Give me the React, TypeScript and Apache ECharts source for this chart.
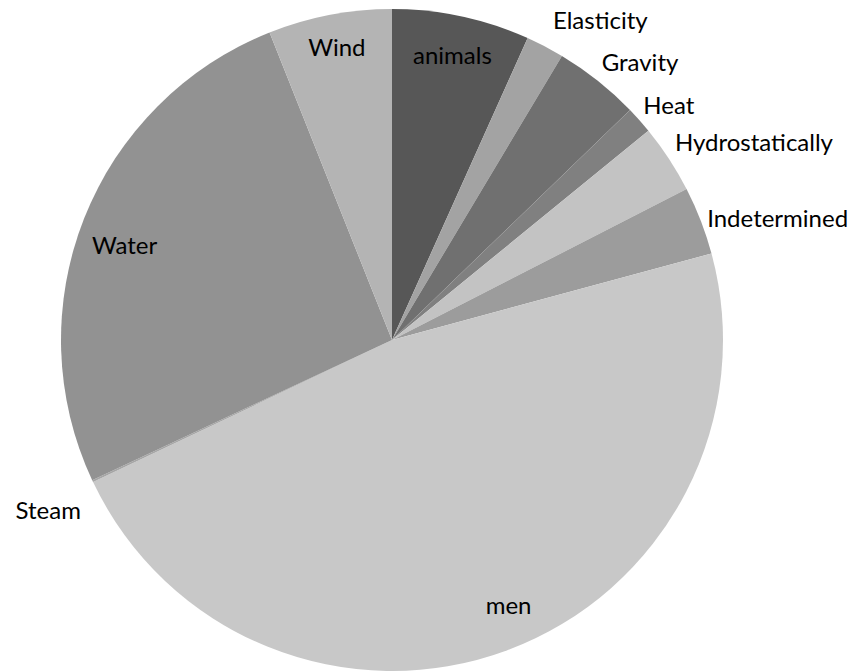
import React, { useEffect, useRef } from "react";
import * as echarts from "echarts";

const categories = ["animals", "Elasticity", "Gravity", "Heat", "Hydrostatically", "Indetermined", "men", "Steam", "Water", "Wind"];
const shares = [6.72, 1.86, 4.19, 1.33, 3.36, 3.33, 47.14, 0.1, 25.93, 6.03];
const sliceColors = ["#575757", "#a3a3a3", "#707070", "#808080", "#c3c3c3", "#9c9c9c", "#c8c8c8", "#a6a6a6", "#929292", "#b4b4b4"];
const insideLabels = ["animals", "men", "Water", "Wind"];

// label placement (styling, not data): radial length and horizontal length of the hidden leader line
const outsidePlacement: Record<string, [number, number]> = {
  Elasticity: [30, -11],
  Gravity: [24, -16],
  Heat: [24, -19],
  Hydrostatically: [31, -25],
  Indetermined: [8, -6],
  Steam: [66, -53],
};
// small nudges of inside labels (styling)
const insideNudge: Record<string, { dx: number; dy: number }> = {
  animals: { dx: -1, dy: 1 },
  men: { dx: 15, dy: -10 },
  Water: { dx: 5, dy: 12 },
  Wind: { dx: 0, dy: -6 },
};

const FONT = "Lato, 'Open Sans', sans-serif";

export default function App() {
  const ref = useRef<HTMLDivElement>(null);
  useEffect(() => {
    if (!ref.current) return;
    const chart = echarts.init(ref.current, undefined, { renderer: "svg" });
    const labelStyle = { color: "#000", fontSize: 24, fontFamily: FONT };
    const mainData = categories.map((name, i) => {
      const p = outsidePlacement[name];
      return {
        name,
        value: shares[i],
        itemStyle: { color: sliceColors[i] },
        label: p ? { show: true, position: "outside", ...labelStyle } : { show: false },
        labelLine: { show: false, length: p ? p[0] : 5, length2: p ? p[1] : 5 },
      };
    });
    const helperData = categories.map((name, i) => ({
      name,
      value: shares[i],
      itemStyle: { color: "rgba(0,0,0,0)" },
      label: insideLabels.includes(name) ? { show: true, position: "inside", ...labelStyle } : { show: false },
    }));
    chart.setOption({
      animation: false,
      backgroundColor: "#ffffff",
      series: [
        {
          type: "pie",
          center: [392, 340],
          radius: 331,
          startAngle: 90,
          clockwise: true,
          avoidLabelOverlap: false,
          silent: true,
          label: { formatter: "{b}" },
          itemStyle: { borderWidth: 0 },
          data: mainData,
        },
        {
          type: "pie",
          center: [392, 340],
          radius: [250, 330],
          startAngle: 90,
          clockwise: true,
          avoidLabelOverlap: false,
          silent: true,
          label: { formatter: "{b}" },
          labelLine: { show: false },
          labelLayout: (params: any) => insideNudge[categories[params.dataIndex]] || {},
          itemStyle: { borderWidth: 0 },
          data: helperData,
        },
      ],
    });
    return () => chart.dispose();
  }, []);
  return <div ref={ref} style={{ position: "fixed", left: 0, top: 0, width: 859, height: 671 }} />;
}
